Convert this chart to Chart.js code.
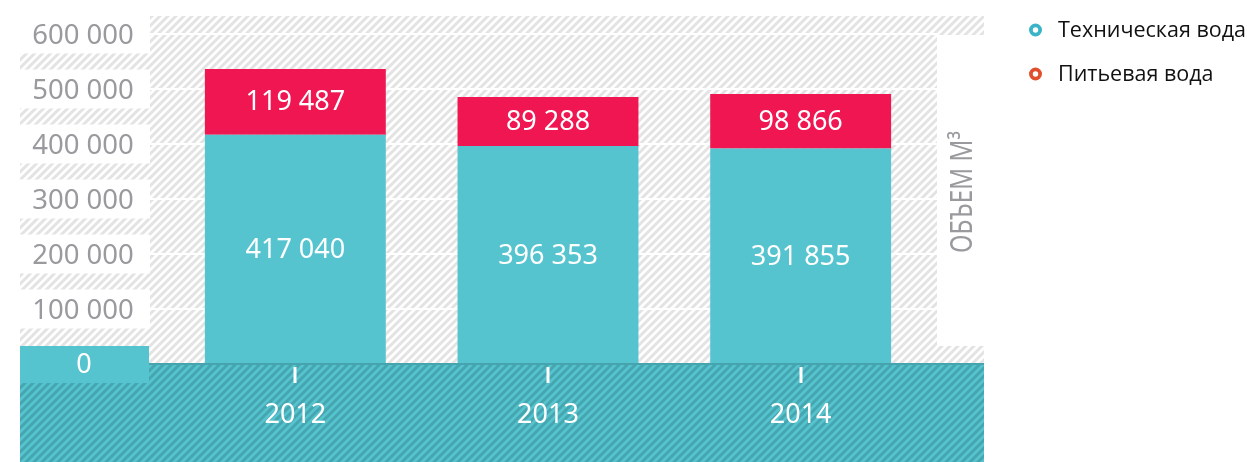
<!DOCTYPE html>
<html>
<head>
<meta charset="utf-8">
<script src="https://cdn.jsdelivr.net/npm/chart.js@4.4.1/dist/chart.umd.min.js"></script>
<style>
  html, body { margin: 0; padding: 0; background: #fff; overflow: hidden; }
</style>
</head>
<body>
<canvas id="chart" width="1247" height="462"></canvas>
<script>
// данные
const years = ['2012', '2013', '2014'];
const techWater = [417040, 396353, 391855];
const drinkWater = [119487, 89288, 98866];
const yTicks = [0, 100000, 200000, 300000, 400000, 500000, 600000];
const seriesNames = ['Техническая вода', 'Питьевая вода'];
const axisTitle = 'ОБЪЕМ М³';

const TEAL = '#56c4cf';
const RED = '#ef1651';
const GRAY = '#9a9a9e';

function fmt(v) {
    return String(v).replace(/\B(?=(\d{3})+(?!\d))/g, ' ');
}

function hatch(ctx, bg, fg, size, lw) {
    let c = document.createElement('canvas');
    c.width = size;
    c.height = size;
    let g = c.getContext('2d');
    g.fillStyle = bg;
    g.fillRect(0, 0, size, size);
    g.strokeStyle = fg;
    g.lineWidth = lw;
    g.beginPath();
    g.moveTo(0, size); g.lineTo(size, 0);
    g.moveTo(-size / 2, size / 2); g.lineTo(size / 2, -size / 2);
    g.moveTo(size / 2, size * 1.5); g.lineTo(size * 1.5, size / 2);
    g.stroke();
    return ctx.createPattern(c, 'repeat');
}

const decor = {
    id: 'decor',
    beforeDatasetsDraw(chart) {
        let ctx = chart.ctx;
        let y = chart.scales.y;
        ctx.save();
        // светлая штриховка
        ctx.fillStyle = hatch(ctx, '#ffffff', '#e3e3e3', 8, 3);
        ctx.fillRect(20, 16, 964, 348);
        // белые подложки под подписями
        ctx.fillStyle = '#ffffff';
        yTicks.forEach(function (t) {
            if (t === 0) return;
            let py = y.getPixelForValue(t);
            let top = Math.max(16, py - 19.5);
            ctx.fillRect(20, top, 130, py + 19.5 - top);
        });
        ctx.fillRect(937, 35, 48, 311);
        // линии сетки
        ctx.strokeStyle = '#ffffff';
        ctx.lineWidth = 2;
        yTicks.forEach(function (t) {
            if (t === 0) return;
            let py = Math.round(y.getPixelForValue(t));
            ctx.beginPath();
            ctx.moveTo(150, py);
            ctx.lineTo(937, py);
            ctx.stroke();
        });
        ctx.restore();
    },
    afterDatasetsDraw(chart) {
        let ctx = chart.ctx;
        let x = chart.scales.x;
        let y = chart.scales.y;
        let y0 = y.getPixelForValue(0);
        ctx.save();
        // нижняя тёмная область
        ctx.fillStyle = hatch(ctx, TEAL, '#46a6b0', 8, 3);
        ctx.fillRect(20, y0 - 1, 964, 462 - y0 + 1);
        ctx.fillStyle = '#45a4ae';
        ctx.fillRect(20, y0 - 1, 964, 2);

        // подпись 0
        ctx.fillStyle = TEAL;
        ctx.fillRect(20, y0 - 18, 129, 37);
        ctx.fillStyle = '#ffffff';
        ctx.font = '27px "Noto Sans"';
        ctx.textAlign = 'center';
        ctx.textBaseline = 'middle';
        ctx.fillText('0', 84, y0 + 1);

        // подписи оси Y
        ctx.fillStyle = GRAY;
        ctx.font = '27.5px "Noto Sans"';
        yTicks.forEach(function (t) {
            if (t === 0) return;
            ctx.fillText(fmt(t), 83, y.getPixelForValue(t) + 2);
        });

        // засечки и годы
        ctx.fillStyle = '#ffffff';
        ctx.font = '27px "Noto Sans"';
        years.forEach(function (yr, i) {
            let px = x.getPixelForValue(i);
            ctx.fillRect(Math.round(px) - 1.5, 367, 3, 16);
            ctx.fillText(yr, px, 415);
        });

        // значения в столбцах
        chart.data.datasets.forEach(function (ds, di) {
            let meta = chart.getDatasetMeta(di);
            meta.data.forEach(function (bar, i) {
                let cy = (bar.y + bar.base) / 2;
                ctx.fillText(fmt(ds.data[i]), bar.x, cy + 1);
            });
        });

        // заголовок оси
        ctx.save();
        ctx.translate(963, 192);
        ctx.rotate(-Math.PI / 2);
        ctx.font = '30px "Noto Sans"';
        let w = ctx.measureText(axisTitle).width;
        ctx.scale(122 / w, 1);
        ctx.fillStyle = GRAY;
        ctx.fillText(axisTitle, 0, 0);
        ctx.restore();

        // легенда
        let legendColors = ['#3ab4c6', '#e0502e'];
        let legendY = [30, 74];
        ctx.font = '21.5px "Open Sans"';
        ctx.textAlign = 'left';
        seriesNames.forEach(function (name, i) {
            ctx.beginPath();
            ctx.arc(1035.5, legendY[i], 4.6, 0, Math.PI * 2);
            ctx.fillStyle = '#ffffff';
            ctx.fill();
            ctx.strokeStyle = legendColors[i];
            ctx.lineWidth = 3.8;
            ctx.stroke();
            ctx.fillStyle = '#111111';
            ctx.fillText(name, 1058, legendY[i] + 1);
        });
        ctx.restore();
    }
};

new Chart(document.getElementById('chart').getContext('2d'), {
    type: 'bar',
    data: {
        labels: years,
        datasets: [
            {label: seriesNames[0], data: techWater, backgroundColor: TEAL},
            {label: seriesNames[1], data: drinkWater, backgroundColor: RED}
        ]
    },
    options: {
        responsive: false,
        animation: false,
        layout: {padding: {left: 169, right: 320, top: 34, bottom: 98}},
        datasets: {bar: {categoryPercentage: 1, barPercentage: 0.716, borderWidth: 0}},
        scales: {
            x: {stacked: true, display: false},
            y: {stacked: true, display: false, min: 0, max: 600000}
        },
        plugins: {legend: {display: false}, tooltip: {enabled: false}}
    },
    plugins: [decor]
});
</script>
</body>
</html>
